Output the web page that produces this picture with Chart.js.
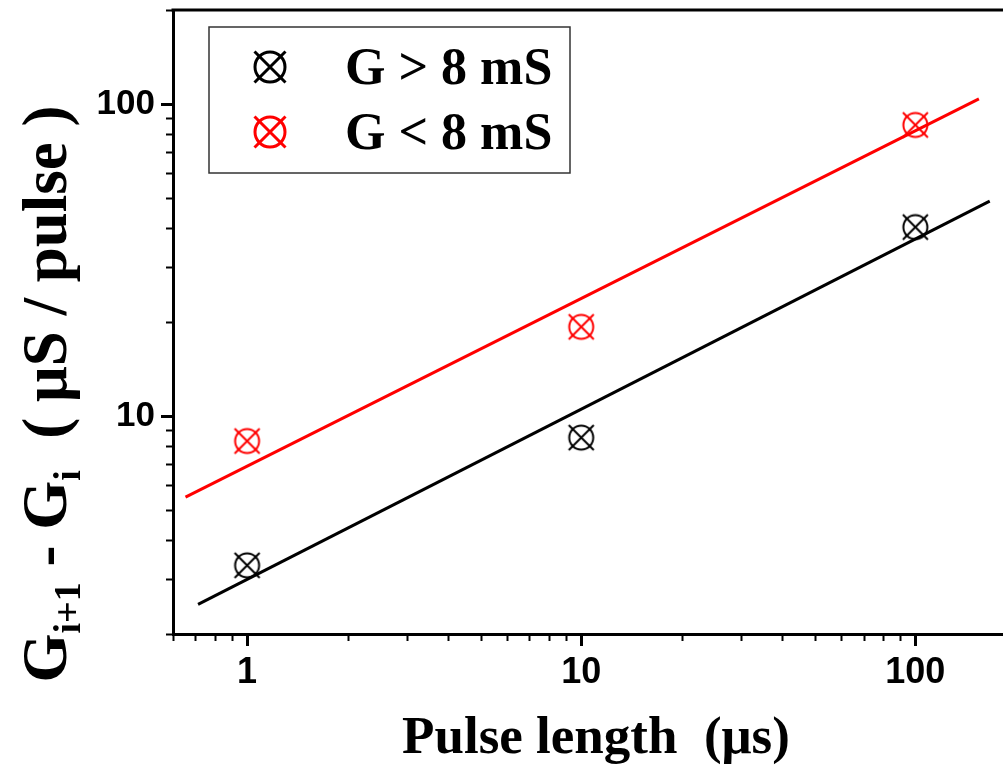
<!DOCTYPE html>
<html lang="en">
<head>
    <meta charset="UTF-8">
    <title>Conductance step vs pulse length</title>
    <script src="https://cdn.jsdelivr.net/npm/chart.js"></script>
    <style>
        body { margin: 0; background: #fff; overflow: hidden; }
        canvas { display: block; }
    </style>
</head>
<body>
    <canvas id="chart" width="1003" height="765"></canvas>

    <script>
        // measured points (pulse length in us, step in uS/pulse)
        const pulseLength = [1, 10, 100];
        const stepHigh = [3.32, 8.52, 40.3];   // G > 8 mS
        const stepLow = [8.31, 19.3, 85.6];    // G < 8 mS

        // fitted lines, end points
        const fitHighX = [0.713, 167];
        const fitHighY = [2.49, 48.8];
        const fitLowX = [0.654, 155];
        const fitLowY = [5.49, 103.8];

        const legendLabels = ['G > 8 mS', 'G < 8 mS'];
        const majorLabels = [1, 10, 100];

        function pts(xs, ys) {
            return xs.map((x, i) => ({x: x, y: ys[i]}));
        }

        // circle with a cross through it
        function makeMarker(color, r, c, lw) {
            const size = Math.ceil(2 * Math.max(r, c) + lw + 2);
            const cv = document.createElement('canvas');
            cv.width = size;
            cv.height = size;
            const g = cv.getContext('2d');
            const m = size / 2;
            g.strokeStyle = color;
            g.lineWidth = lw;
            g.beginPath();
            g.arc(m, m, r, 0, Math.PI * 2);
            g.stroke();
            g.beginPath();
            g.moveTo(m - c, m - c); g.lineTo(m + c, m + c);
            g.moveTo(m - c, m + c); g.lineTo(m + c, m - c);
            g.stroke();
            return cv;
        }

        const markBlack = makeMarker('#000', 12, 12.5, 2);
        const markRed = makeMarker('#ff0000', 12, 12.5, 2);
        const legBlack = makeMarker('#000', 15, 15.5, 3);
        const legRed = makeMarker('#ff0000', 15, 15.5, 3);

        function logTicks(min, max) {
            const out = [];
            for (let d = -1; d <= 3; d++) {
                for (let k = 1; k <= 9; k++) {
                    const v = k * Math.pow(10, d);
                    if (v >= min * 0.999 && v <= max * 1.001) out.push({value: v, major: k === 1});
                }
            }
            return out;
        }

        const framePlugin = {
            id: 'frame',
            afterDraw(chart) {
                const ctx = chart.ctx;
                const a = chart.chartArea;
                const xs = chart.scales.x, ys = chart.scales.y;
                ctx.save();
                ctx.strokeStyle = '#000';

                // top frame line
                ctx.lineWidth = 3;
                ctx.beginPath();
                ctx.moveTo(a.left - 1.5, a.top);
                ctx.lineTo(a.right, a.top);
                ctx.stroke();

                // ticks, outward
                xs.ticks.forEach(t => {
                    const px = Math.round(xs.getPixelForValue(t.value)) + 0.5;
                    ctx.lineWidth = t.major ? 3 : 2;
                    ctx.beginPath();
                    ctx.moveTo(px, a.bottom);
                    ctx.lineTo(px, a.bottom + (t.major ? 12 : 7));
                    ctx.stroke();
                });
                ys.ticks.forEach(t => {
                    const py = Math.round(ys.getPixelForValue(t.value)) + 0.5;
                    ctx.lineWidth = t.major ? 3 : 2;
                    ctx.beginPath();
                    ctx.moveTo(a.left, py);
                    ctx.lineTo(a.left - (t.major ? 12 : 7), py);
                    ctx.stroke();
                });

                // x title
                ctx.fillStyle = '#000';
                ctx.font = 'bold 53px "Liberation Serif"';
                ctx.textAlign = 'center';
                ctx.textBaseline = 'alphabetic';
                ctx.fillText('Pulse length  (\u03bcs)', 596, 753);

                // y title with subscripts
                const F = 63, S = 38;
                const parts = [
                    {t: 'G', f: F, dy: 0},
                    {t: 'i+1', f: S, dy: 14},
                    {t: ' - ', f: F, dy: 0},
                    {t: 'G', f: F, dy: 0},
                    {t: 'i', f: S, dy: 14},
                    {t: '  ( \u03bcS / pulse )', f: F, dy: 0}
                ];
                let total = 0;
                parts.forEach(p => {
                    ctx.font = 'bold ' + p.f + 'px "Liberation Serif"';
                    p.w = ctx.measureText(p.t).width;
                    total += p.w;
                });
                ctx.translate(66, 394);
                ctx.rotate(-Math.PI / 2);
                ctx.textAlign = 'left';
                let cx = -total / 2;
                parts.forEach(p => {
                    ctx.font = 'bold ' + p.f + 'px "Liberation Serif"';
                    ctx.fillText(p.t, cx, p.dy);
                    cx += p.w;
                });
                ctx.restore();

                // legend box
                ctx.save();
                ctx.strokeStyle = '#333';
                ctx.lineWidth = 1.5;
                ctx.fillStyle = '#fff';
                ctx.fillRect(209, 27, 361, 146);
                ctx.strokeRect(209, 27, 361, 146);
                const marks = [legBlack, legRed];
                const rows = [67, 132];
                ctx.fillStyle = '#000';
                ctx.font = 'bold 52px "Liberation Serif"';
                ctx.textAlign = 'left';
                ctx.textBaseline = 'alphabetic';
                legendLabels.forEach((lab, i) => {
                    const m = marks[i];
                    ctx.drawImage(m, 270 - m.width / 2, rows[i] - m.height / 2);
                    ctx.fillText(lab, 345, rows[i] + 17);
                });
                ctx.restore();
            }
        };

        new Chart(document.getElementById('chart'), {
            type: 'scatter',
            data: {
                datasets: [
                    {
                        label: legendLabels[0],
                        data: pts(pulseLength, stepHigh),
                        pointStyle: markBlack,
                        pointRadius: 12,
                        order: 0
                    },
                    {
                        label: legendLabels[1],
                        data: pts(pulseLength, stepLow),
                        pointStyle: markRed,
                        pointRadius: 12,
                        order: 0
                    },
                    {
                        label: 'fit high',
                        data: pts(fitHighX, fitHighY),
                        showLine: true,
                        borderColor: '#000',
                        borderWidth: 3,
                        pointRadius: 0,
                        order: 1
                    },
                    {
                        label: 'fit low',
                        data: pts(fitLowX, fitLowY),
                        showLine: true,
                        borderColor: '#ff0000',
                        borderWidth: 3,
                        pointRadius: 0,
                        order: 1
                    }
                ]
            },
            options: {
                responsive: false,
                animation: false,
                layout: { autoPadding: false, padding: { top: 10, right: 0, left: 0, bottom: 0 } },
                plugins: {
                    legend: { display: false },
                    tooltip: { enabled: false }
                },
                scales: {
                    x: {
                        type: 'logarithmic',
                        min: 0.6,
                        max: 183,
                        afterBuildTicks: s => { s.ticks = logTicks(0.6, 183); },
                        afterFit: s => {
                            s.height = 131;
                            s.paddingLeft = 0; s.paddingRight = 0;
                            s.paddingTop = 0; s.paddingBottom = 0;
                        },
                        grid: { display: true, drawOnChartArea: false, drawTicks: false },
                        border: { display: true, color: '#000', width: 3 },
                        ticks: {
                            autoSkip: false,
                            maxRotation: 0,
                            padding: 17,
                            color: '#000',
                            font: { family: '"Liberation Sans"', size: 36, weight: 'bold' },
                            callback: v => majorLabels.includes(v) ? String(v) : ''
                        }
                    },
                    y: {
                        type: 'logarithmic',
                        min: 2,
                        max: 200,
                        afterBuildTicks: s => { s.ticks = logTicks(2, 200); },
                        afterFit: s => {
                            s.width = 173;
                            s.paddingLeft = 0; s.paddingRight = 0;
                            s.paddingTop = 0; s.paddingBottom = 0;
                        },
                        grid: { display: true, drawOnChartArea: false, drawTicks: false },
                        border: { display: true, color: '#000', width: 3 },
                        ticks: {
                            autoSkip: false,
                            padding: 18,
                            color: '#000',
                            font: { family: '"Liberation Sans"', size: 35, weight: 'bold' },
                            callback: v => majorLabels.includes(v) ? String(v) : ''
                        }
                    }
                }
            },
            plugins: [framePlugin]
        });
    </script>
</body>
</html>
